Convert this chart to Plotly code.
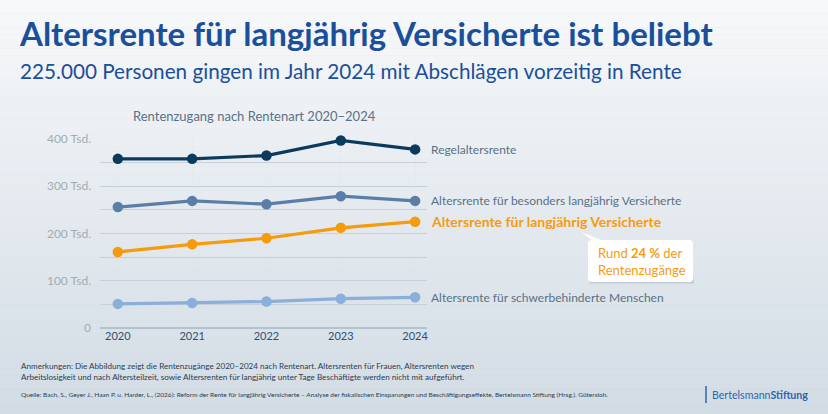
import plotly.graph_objects as go

# ---- data ----
years = [2020, 2021, 2022, 2023, 2024]
series_names = [
    "Regelaltersrente",
    "Altersrente für besonders langjährig Versicherte",
    "Altersrente für langjährig Versicherte",
    "Altersrente für schwerbehinderte Menschen",
]
regel = [358, 358, 365, 397, 378]
besonders = [256, 269, 262, 279, 269]
langjaehrig = [161, 177, 190, 212, 225]
schwerbehindert = [51, 53, 56, 62, 65]
series_values = [regel, besonders, langjaehrig, schwerbehindert]
y_tickvals = [0, 100, 200, 300, 400]
y_ticktext = ["0", "100 Tsd.", "200 Tsd.", "300 Tsd.", "400 Tsd."]

colors = ["#0c3a5d", "#5a7ea7", "#f59c0d", "#8caedb"]

W, H = 828, 414
L, R, T, B = 100, 427, 139, 328  # plot area in pixels


def px(x):
    return (x - L) / (R - L)


def py(y):
    return (B - y) / (B - T)


fig = go.Figure()

for name, vals, col in zip(series_names, series_values, colors):
    fig.add_trace(go.Scatter(
        x=years, y=vals, mode="lines+markers", name=name,
        line=dict(color=col, width=3.2),
        marker=dict(color=col, size=10.5),
        cliponaxis=False, showlegend=False, hoverinfo="skip",
    ))

# background gradient
shapes = []
n = 60
top = (247, 248, 249)
bot = (210, 220, 229)
for i in range(n):
    t = i / (n - 1)
    c = tuple(int(round(top[k] + (bot[k] - top[k]) * t)) for k in range(3))
    shapes.append(dict(
        type="rect", xref="paper", yref="paper", layer="below",
        x0=px(0), x1=px(W), y0=py(H * (i + 1) / n), y1=py(H * i / n),
        fillcolor="rgb(%d,%d,%d)" % c, line=dict(width=0),
    ))

# callout bubble with pointer
bx0, bx1, by0, by1 = 588, 693, 240, 282
r = 4
tipx, tipy = 581, 232
path = (
    f"M {px(bx0 + r)},{py(by0)} "
    f"L {px(tipx)},{py(tipy)} "
    f"L {px(bx0 + 13)},{py(by0)} "
    f"L {px(bx1 - r)},{py(by0)} "
    f"Q {px(bx1)},{py(by0)} {px(bx1)},{py(by0 + r)} "
    f"L {px(bx1)},{py(by1 - r)} "
    f"Q {px(bx1)},{py(by1)} {px(bx1 - r)},{py(by1)} "
    f"L {px(bx0 + r)},{py(by1)} "
    f"Q {px(bx0)},{py(by1)} {px(bx0)},{py(by1 - r)} "
    f"L {px(bx0)},{py(by0 + r)} "
    f"Q {px(bx0)},{py(by0)} {px(bx0 + r)},{py(by0)} Z"
)
# soft shadow
shapes.append(dict(
    type="path", xref="paper", yref="paper",
    path=(f"M {px(bx0 + 1 + r)},{py(by0 + 2)} L {px(bx1 + 1 - r)},{py(by0 + 2)} "
          f"L {px(bx1 + 1)},{py(by1 + 1.5)} L {px(bx0 + 1)},{py(by1 + 1.5)} Z"),
    fillcolor="rgba(120,140,160,0.25)", line=dict(width=0), layer="above"))
shapes.append(dict(type="path", xref="paper", yref="paper", path=path,
                   fillcolor="white", line=dict(width=0), layer="above"))

# logo bar
shapes.append(dict(type="line", xref="paper", yref="paper",
                   x0=px(706), x1=px(706), y0=py(386), y1=py(403),
                   line=dict(color="#2d65ae", width=1.5)))

annotations = []
# series labels
for i, (name, vals, col) in enumerate(zip(series_names, series_values, colors)):
    bold = i == 2
    annotations.append(dict(
        x=years[-1], y=vals[-1], xref="x", yref="y",
        text=f"<b>{name}</b>" if bold else name,
        showarrow=False, xanchor="left", yanchor="middle", xshift=14,
        font=dict(family="Lato", size=14 if bold else 12,
                  color="#f59c0d" if bold else "#5b7087"),
    ))

annotations += [
    dict(x=px(17), y=py(33), xref="paper", yref="paper", xanchor="left", yanchor="middle",
         text="<b>Altersrente für langjährig Versicherte ist beliebt</b>", showarrow=False,
         font=dict(family="Lato", size=33, color="#1a4f9b")),
    dict(x=px(18), y=py(71), xref="paper", yref="paper", xanchor="left", yanchor="middle",
         text="225.000 Personen gingen im Jahr 2024 mit Abschlägen vorzeitig in Rente", showarrow=False,
         font=dict(family="Lato", size=20.7, color="#1a4f9b")),
    dict(x=px(254), y=py(116), xref="paper", yref="paper", xanchor="center", yanchor="middle",
         text="Rentenzugang nach Rentenart 2020–2024", showarrow=False,
         font=dict(family="Lato", size=13, color="#5b7087")),
    dict(x=px(596), y=py(261), xref="paper", yref="paper", xanchor="left", yanchor="middle",
         text="Rund <b>24 %</b> der<br>Rentenzugänge", showarrow=False, align="left",
         font=dict(family="Lato", size=13, color="#f59c0d")),
    dict(x=px(19), y=py(371), xref="paper", yref="paper", xanchor="left", yanchor="middle",
         text=("Anmerkungen: Die Abbildung zeigt die Rentenzugänge 2020–2024 nach Rentenart. "
               "Altersrenten für Frauen, Altersrenten wegen<br>Arbeitslosigkeit und nach Altersteilzeit, "
               "sowie Altersrenten für langjährig unter Tage Beschäftigte werden nicht mit aufgeführt."),
         showarrow=False, align="left",
         font=dict(family="Lato", size=8.1, color="#2b3c4f")),
    dict(x=px(19), y=py(394), xref="paper", yref="paper", xanchor="left", yanchor="middle",
         text=("Quelle: Bach, S., Geyer J., Haan P. u. Harder, L., (2026): Reform der Rente für langjährig "
               "Versicherte – Analyse der fiskalischen Einsparungen und Beschäftigungseffekte, "
               "Bertelsmann Stiftung (Hrsg.). Gütersloh."),
         showarrow=False, align="left",
         font=dict(family="Lato", size=6.5, color="#2b3c4f")),
    dict(x=px(710), y=py(395), xref="paper", yref="paper", xanchor="left", yanchor="middle",
         text="Bertelsmann<b>Stiftung</b>", showarrow=False,
         font=dict(family="Lato", size=10.6, color="#2d65ae")),
]

fig.update_layout(
    width=W, height=H,
    margin=dict(l=L, r=W - R, t=T, b=H - B, pad=0),
    paper_bgcolor="#e4e9ee", plot_bgcolor="rgba(0,0,0,0)",
    font=dict(family="Lato"),
    shapes=shapes, annotations=annotations,
    xaxis=dict(
        range=[2019.76, 2024.16], tickvals=years, ticktext=[str(y) for y in years],
        showgrid=True, gridcolor="#dce2e8", griddash="1px,3px", gridwidth=1,
        zeroline=False, showline=False, ticks="",
        tickfont=dict(family="Lato", size=11, color="#34506d"),
    ),
    yaxis=dict(
        range=[0, 400], tickvals=y_tickvals, ticktext=y_ticktext,
        showgrid=True, gridcolor="#c6d0da", gridwidth=1,
        minor=dict(dtick=50, showgrid=True, gridcolor="#c6d0da", gridwidth=1),
        zeroline=True, zerolinecolor="#b3c2d0", zerolinewidth=2,
        showline=False, ticks="", ticklabelstandoff=8,
        tickfont=dict(family="Lato", size=12, color="#a3abb4"),
    ),
)

fig.write_html("out.html")
